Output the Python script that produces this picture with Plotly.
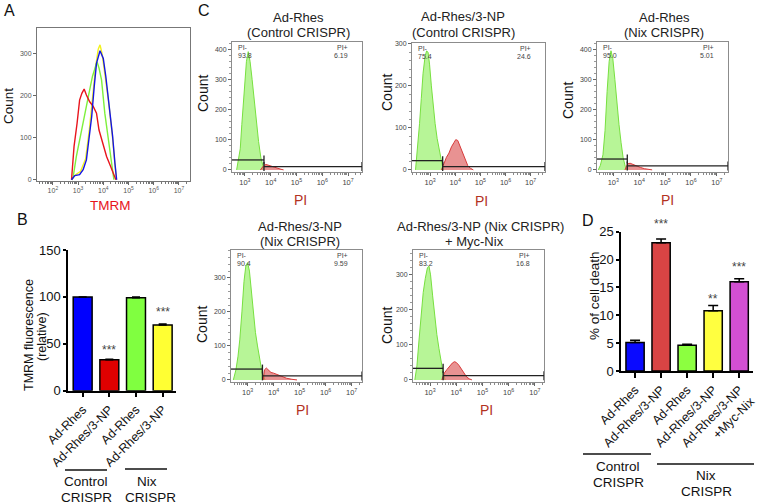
import math
import plotly.graph_objects as go

W, H = 757, 504
FONT = "Arial, Liberation Sans, sans-serif"


def fx(x):
    return x / W


def fy(y):
    return 1 - y / H


# ---------------- Panel A : TMRM histograms (log10 intensity, count) ----------------
a_red_x = [2.74, 2.84, 2.96, 3.06, 3.15, 3.24, 3.33, 3.46, 3.60, 3.73, 3.83, 3.99, 4.13, 4.26, 4.39, 4.50]
a_red_y = [0, 79, 134, 189, 205, 215, 201, 185, 174, 158, 118, 83, 55, 36, 16, 0]
a_green_x = [2.74, 2.80, 2.93, 3.13, 3.33, 3.46, 3.57, 3.66, 3.75, 3.83, 3.93, 4.06, 4.19, 4.33, 4.42]
a_green_y = [0, 5, 55, 118, 174, 213, 245, 260, 280, 265, 237, 158, 103, 40, 0]
a_yellow_x = [2.74, 2.90, 3.10, 3.30, 3.45, 3.58, 3.70, 3.80, 3.87, 3.95, 4.05, 4.20, 4.35, 4.45, 4.52]
a_yellow_y = [0, 12, 20, 50, 120, 200, 270, 310, 320, 300, 260, 190, 110, 45, 0]
a_blue_x = [2.74, 2.87, 3.06, 3.20, 3.33, 3.44, 3.54, 3.64, 3.73, 3.87, 4.00, 4.10, 4.23, 4.37, 4.46, 4.53]
a_blue_y = [0, 10, 12, 24, 47, 95, 150, 221, 276, 306, 288, 245, 182, 103, 40, 0]

# ---------------- Panel B : TMRM fluorescence ----------------
b_labels = ["Ad-Rhes", "Ad-Rhes/3-NP", "Ad-Rhes", "Ad-Rhes/3-NP"]
b_values = [100, 33, 99, 70]
b_errors = [0, 0.6, 1.0, 1.0]
b_stars = ["", "***", "", "***"]

# ---------------- Panel C : PI histograms (log10 PI, count) ----------------
c1_green_x = [2.68, 2.75, 2.82, 2.88, 2.94, 3.00, 3.06, 3.13, 3.20, 3.28, 3.36, 3.45, 3.53, 3.62, 3.74]
c1_green_y = [0, 30, 70, 150, 232, 300, 360, 392, 360, 300, 232, 160, 94, 40, 0]
c1_red_x = [3.60, 3.74, 3.82, 3.95, 4.10, 4.25, 4.40, 4.50]
c1_red_y = [0, 15, 18, 14, 9, 5, 2, 0]

c2_green_x = [2.42, 2.50, 2.58, 2.65, 2.72, 2.80, 2.86, 2.92, 2.98, 3.05, 3.12, 3.20, 3.28, 3.37, 3.45, 3.52]
c2_green_y = [0, 47, 110, 170, 230, 270, 283, 280, 250, 200, 150, 110, 75, 47, 15, 0]
c2_red_x = [3.45, 3.55, 3.65, 3.75, 3.85, 3.95, 4.02, 4.10, 4.20, 4.30, 4.40, 4.50, 4.60, 4.72]
c2_red_y = [0, 15, 30, 40, 55, 65, 72, 70, 55, 38, 22, 10, 4, 0]

c3_green_x = [2.42, 2.50, 2.60, 2.68, 2.76, 2.84, 2.91, 2.98, 3.06, 3.14, 3.22, 3.30, 3.38, 3.46, 3.54]
c3_green_y = [0, 15, 50, 130, 260, 360, 395, 370, 300, 220, 150, 90, 40, 12, 0]
c3_red_x = [3.45, 3.55, 3.65, 3.75, 3.90, 4.05, 4.20, 4.35, 4.50]
c3_red_y = [0, 20, 22, 18, 12, 8, 4, 2, 0]

c4_green_x = [2.45, 2.55, 2.63, 2.70, 2.78, 2.86, 2.93, 3.00, 3.07, 3.15, 3.23, 3.30, 3.38, 3.46, 3.55, 3.67]
c4_green_y = [0, 30, 70, 120, 200, 290, 335, 345, 320, 260, 190, 140, 100, 60, 25, 0]
c4_red_x = [3.60, 3.65, 3.72, 3.80, 3.90, 4.00, 4.10, 4.20, 4.35, 4.50, 4.70, 4.90]
c4_red_y = [0, 30, 35, 28, 22, 20, 17, 13, 9, 5, 2, 0]

c5_green_x = [2.42, 2.50, 2.58, 2.66, 2.74, 2.82, 2.90, 2.96, 3.02, 3.10, 3.18, 3.26, 3.34, 3.42, 3.50, 3.58]
c5_green_y = [0, 40, 114, 190, 250, 290, 320, 325, 300, 240, 180, 130, 90, 50, 20, 0]
c5_red_x = [3.45, 3.55, 3.65, 3.75, 3.85, 3.93, 4.00, 4.10, 4.20, 4.30, 4.40, 4.50, 4.60]
c5_red_y = [0, 20, 30, 40, 48, 52, 50, 42, 30, 18, 8, 3, 0]

c_titles = [["Ad-Rhes", "(Control CRISPR)"], ["Ad-Rhes/3-NP", "(Control CRISPR)"],
            ["Ad-Rhes", "(Nix CRISPR)"], ["Ad-Rhes/3-NP", "(Nix CRISPR)"],
            ["Ad-Rhes/3-NP (Nix CRISPR)", "+ Myc-Nix"]]
c_pi_neg = ["93.8", "75.4", "95.0", "90.4", "83.2"]
c_pi_pos = ["6.19", "24.6", "5.01", "9.59", "16.8"]
c_gate_split = [3.74, 3.50, 3.54, 3.57, 3.50]
c_gate_neg_level = [33, 22, 36, 32, 33]
c_gate_pos_level = [11, 8, 13, 12, 12]

# ---------------- Panel D : % of cell death ----------------
d_labels = ["Ad-Rhes", "Ad-Rhes/3-NP", "Ad-Rhes", "Ad-Rhes/3-NP", "Ad-Rhes/3-NP<br>+Myc-Nix"]
d_values = [5.1, 23.0, 4.6, 10.8, 16.0]
d_errors = [0.4, 0.7, 0.2, 0.95, 0.55]
d_stars = ["", "***", "", "**", "***"]

# ==================================================================================
fig = go.Figure()
annotations = []
shapes = []


def ann(text, x, y, size, color="#111", angle=0, xanchor="center", yanchor="middle",
        xref="paper", yref="paper"):
    annotations.append(dict(text=text, x=x, y=y, xref=xref, yref=yref, showarrow=False,
                            font=dict(size=size, color=color, family=FONT), textangle=angle,
                            xanchor=xanchor, yanchor=yanchor))


def minor_logs(lo, hi):
    vals = []
    for n in range(1, 8):
        for k in range(2, 10):
            v = n + math.log10(k)
            if lo < v < hi:
                vals.append(v)
    return vals


def pow_ticks(lo, hi):
    vals = [n for n in range(1, 9) if lo <= n <= hi]
    return vals, ["10<sup>%d</sup>" % n for n in vals]


layout = dict(template="none", width=W, height=H, autosize=False,
              margin=dict(l=0, r=0, t=0, b=0, pad=0, autoexpand=False),
              paper_bgcolor="white", plot_bgcolor="white", showlegend=False,
              font=dict(family=FONT, color="#111"))

# ---------------- Panel A ----------------
a_xr = [1.37, 7.44]
tv, tt = pow_ticks(*a_xr)
layout["xaxis"] = dict(domain=[fx(37), fx(190)], range=a_xr, anchor="y", showline=True, mirror=True,
                       linecolor="#777", linewidth=1, ticks="outside", ticklen=3, tickcolor="#666",
                       tickvals=tv, ticktext=tt, tickfont=dict(size=7, color="#555"),
                       showgrid=False, zeroline=False, automargin=False,
                       minor=dict(tickvals=minor_logs(*a_xr), ticks="outside", ticklen=2, tickcolor="#777"))
layout["yaxis"] = dict(domain=[fy(181), fy(28)], range=[-3, 360], anchor="x", showline=True, mirror=True,
                       linecolor="#777", linewidth=1, ticks="outside", ticklen=3, tickcolor="#666",
                       tickvals=[0, 100, 200, 300], tickfont=dict(size=7, color="#555"),
                       showgrid=False, zeroline=False, automargin=False)
for xs, ys, col in [(a_yellow_x, a_yellow_y, "#f2f21c"), (a_green_x, a_green_y, "#7ef03c"),
                    (a_red_x, a_red_y, "#e8141c"), (a_blue_x, a_blue_y, "#1414e6")]:
    fig.add_trace(go.Scatter(x=xs, y=ys, mode="lines", line=dict(color=col, width=1.4),
                             xaxis="x", yaxis="y", hoverinfo="skip"))
ann("A", fx(9), fy(10), 16)
ann("Count", fx(8), fy(106), 13.5, angle=-90)
ann("TMRM", fx(110), fy(205), 13.5, color="#e8151b")

# ---------------- Panel B ----------------
layout["xaxis2"] = dict(domain=[fx(68), fx(176)], range=[-0.55, 3.5], anchor="y2", showline=True,
                        linecolor="black", linewidth=1.5, ticks="outside", ticklen=5, tickwidth=1.5,
                        tickcolor="black", tickvals=list(range(len(b_labels))), ticktext=b_labels,
                        tickangle=-45, tickfont=dict(size=12.5, color="#111"), showgrid=False,
                        zeroline=False, automargin=False, ticklabeloverflow="allow")
layout["yaxis2"] = dict(domain=[fy(390.7), fy(250)], range=[0, 150], anchor="x2", showline=True,
                        linecolor="black", linewidth=1.5, ticks="outside", ticklen=3, tickwidth=1.5,
                        tickcolor="black", tickvals=[0, 50, 100, 150], tickfont=dict(size=13, color="#111"),
                        showgrid=False, zeroline=False, automargin=False)
fig.add_trace(go.Bar(x=list(range(len(b_values))), y=b_values, width=0.71,
                     marker=dict(color=["#0000ff", "#e00000", "#80ff40", "#ffff33"],
                                 line=dict(color="black", width=1.5)),
                     error_y=dict(type="data", array=b_errors, arrayminus=[0] * len(b_errors),
                                  symmetric=False, color="black", thickness=1.5, width=4),
                     xaxis="x2", yaxis="y2", hoverinfo="skip"))
b_star_y = [0, 350, 0, 312]
for i, s in enumerate(b_stars):
    if s:
        ann(s, i, fy(b_star_y[i]), 12, color="#444", xref="x2")
ann("B", fx(22), fy(219), 16)
ann("TMRM fluorescence", fx(29), fy(335), 12.5, angle=-90)
ann("(relative)", fx(42), fy(337), 12.5, angle=-90)
shapes.append(dict(type="line", xref="paper", yref="paper", x0=fx(65), x1=fx(107), y0=fy(470), y1=fy(470),
                   line=dict(color="#111", width=1.5)))
shapes.append(dict(type="line", xref="paper", yref="paper", x0=fx(125), x1=fx(167), y0=fy(469), y1=fy(469),
                   line=dict(color="#111", width=1.5)))
ann("Control", fx(86), fy(481), 13.5)
ann("CRISPR", fx(86), fy(497), 13.5)
ann("Nix", fx(147), fy(481), 13.5)
ann("CRISPR", fx(150), fy(497), 13.5)

# ---------------- Panel C ----------------
c_green_x = [c1_green_x, c2_green_x, c3_green_x, c4_green_x, c5_green_x]
c_green_y = [c1_green_y, c2_green_y, c3_green_y, c4_green_y, c5_green_y]
c_red_x = [c1_red_x, c2_red_x, c3_red_x, c4_red_x, c5_red_x]
c_red_y = [c1_red_y, c2_red_y, c3_red_y, c4_red_y, c5_red_y]

c_boxes = [(232, 362, 42, 172), (412, 545, 43, 172), (597, 728, 42, 172),
           (231, 362, 250, 382), (413, 544, 250, 382)]
c_xr = [[2.50, 7.54], [2.28, 7.57], [2.37, 7.43], [2.36, 7.40], [2.35, 7.35]]
c_yr = [[-7, 424], [-5, 302], [-7, 424], [-6, 382], [-6, 371]]
c_yt = [[0, 100, 200, 300, 400], [0, 100, 200, 300], [0, 100, 200, 300, 400],
        [0, 100, 200, 300], [0, 100, 200, 300]]
c_title_pos = [(298, 18, 32), (463, 17, 32), (664, 18, 32), (300, 227, 241), (480, 227, 241)]
c_count_pos = [(203, 94), (387, 93), (568, 101), (202, 325), (387, 326)]
c_pi_pos_xy = [(300, 200), (482, 201), (667, 200), (302, 410), (486, 410)]

for i in range(5):
    n = i + 3
    xa, ya = "x%d" % n, "y%d" % n
    x0, x1, y0, y1 = c_boxes[i]
    xr, yr = c_xr[i], c_yr[i]
    tv, tt = pow_ticks(3, 7)
    layout["xaxis%d" % n] = dict(domain=[fx(x0), fx(x1)], range=xr, anchor=ya, showline=True, mirror=True,
                                 linecolor="#8c8c8c", linewidth=1, ticks="outside", ticklen=3,
                                 tickcolor="#666", tickvals=tv, ticktext=tt,
                                 tickfont=dict(size=7.5, color="#444"), showgrid=False, zeroline=False,
                                 automargin=False,
                                 minor=dict(tickvals=minor_logs(*xr), ticks="outside", ticklen=2,
                                            tickcolor="#888"))
    layout["yaxis%d" % n] = dict(domain=[fy(y1), fy(y0)], range=yr, anchor=xa, showline=True, mirror=True,
                                 linecolor="#8c8c8c", linewidth=1, ticks="outside", ticklen=3,
                                 tickcolor="#666", tickvals=c_yt[i], tickfont=dict(size=7, color="#444"),
                                 showgrid=False, zeroline=False, automargin=False,
                                 minor=dict(dtick=20, ticks="outside", ticklen=2, tickcolor="#999"))
    fig.add_trace(go.Scatter(x=c_green_x[i], y=c_green_y[i], mode="lines", fill="tozeroy",
                             fillcolor="rgba(165,242,125,0.8)", line=dict(color="#78e040", width=1),
                             xaxis=xa, yaxis=ya, hoverinfo="skip"))
    fig.add_trace(go.Scatter(x=c_red_x[i], y=c_red_y[i], mode="lines", fill="tozeroy",
                             fillcolor="rgba(222,100,100,0.7)", line=dict(color="#d83a3a", width=1),
                             xaxis=xa, yaxis=ya, hoverinfo="skip"))
    # gates
    cpp = (yr[1] - yr[0]) / (y1 - y0)  # counts per pixel
    cap = 4.5 * cpp
    sp = c_gate_split[i]
    gl = c_gate_neg_level[i]
    gp = c_gate_pos_level[i]
    gline = dict(color="#222", width=1.3)
    shapes.append(dict(type="line", xref=xa, yref=ya, x0=xr[0], x1=sp, y0=gl, y1=gl, line=gline))
    shapes.append(dict(type="line", xref=xa, yref=ya, x0=sp, x1=sp, y0=gl - cap, y1=gl + cap, line=gline))
    shapes.append(dict(type="line", xref=xa, yref=ya, x0=sp, x1=xr[1], y0=gp, y1=gp, line=gline))
    shapes.append(dict(type="line", xref=xa, yref=ya, x0=sp, x1=sp, y0=gp - cap, y1=gp + cap, line=gline))
    shapes.append(dict(type="line", xref=xa, yref=ya, x0=xr[1], x1=xr[1], y0=gp - cap, y1=gp + cap,
                       line=gline))
    ann("PI-", 0.03, 0.955, 7, color="#444", xanchor="left", xref=xa + " domain", yref=ya + " domain")
    ann(c_pi_neg[i], 0.03, 0.895, 7, color="#444", xanchor="left", xref=xa + " domain", yref=ya + " domain")
    ann("PI+", 0.91, 0.955, 7, color="#444", xanchor="right", xref=xa + " domain", yref=ya + " domain")
    ann(c_pi_pos[i], 0.91, 0.895, 7, color="#444", xanchor="right", xref=xa + " domain", yref=ya + " domain")
    tx, ty1, ty2 = c_title_pos[i]
    ann(c_titles[i][0], fx(tx), fy(ty1), 13, color="#222")
    ann(c_titles[i][1], fx(tx if i < 4 else 475), fy(ty2), 13, color="#222")
    cx, cy = c_count_pos[i]
    ann("Count", fx(cx), fy(cy), 14, angle=-90)
    px_, py_ = c_pi_pos_xy[i]
    ann("PI", fx(px_), fy(py_), 14, color="#b3321f")
ann("C", fx(204), fy(10), 16)

# ---------------- Panel D ----------------
layout["xaxis8"] = dict(domain=[fx(621), fx(753)], range=[-0.54, 4.53], anchor="y8", showline=True,
                        linecolor="black", linewidth=1.5, ticks="outside", ticklen=5, tickwidth=1.5,
                        tickcolor="black", tickvals=list(range(len(d_labels))), ticktext=d_labels,
                        tickangle=-45, tickfont=dict(size=12.5, color="#111"), showgrid=False,
                        zeroline=False, automargin=False, ticklabeloverflow="allow")
layout["yaxis8"] = dict(domain=[fy(371), fy(231.7)], range=[0, 25], anchor="x8", showline=True,
                        linecolor="black", linewidth=1.5, ticks="outside", ticklen=3, tickwidth=1.5,
                        tickcolor="black", tickvals=[0, 5, 10, 15, 20, 25], tickfont=dict(size=13, color="#111"),
                        showgrid=False, zeroline=False, automargin=False)
fig.add_trace(go.Bar(x=list(range(len(d_values))), y=d_values, width=0.7,
                     marker=dict(color=["#0a0aff", "#d94444", "#8cff40", "#ffff40", "#d24fd2"],
                                 line=dict(color="black", width=1.5)),
                     error_y=dict(type="data", array=d_errors, arrayminus=[0] * len(d_errors),
                                  symmetric=False, color="black", thickness=1.5, width=5),
                     xaxis="x8", yaxis="y8", hoverinfo="skip"))
d_star_y = [0, 224.3, 0, 299, 267.3]
for i, s in enumerate(d_stars):
    if s:
        ann(s, i, fy(d_star_y[i]), 12, color="#444", xref="x8")
ann("D", fx(588), fy(220), 16)
ann("% of cell death", fx(594), fy(296), 13.5, angle=-90)
shapes.append(dict(type="line", xref="paper", yref="paper", x0=fx(583), x1=fx(651), y0=fy(454), y1=fy(454),
                   line=dict(color="#111", width=1.5)))
shapes.append(dict(type="line", xref="paper", yref="paper", x0=fx(657), x1=fx(754), y0=fy(464), y1=fy(464),
                   line=dict(color="#111", width=1.5)))
ann("Control", fx(618), fy(466), 13.5)
ann("CRISPR", fx(618), fy(482), 13.5)
ann("Nix", fx(706), fy(475), 13.5)
ann("CRISPR", fx(706), fy(491), 13.5)

layout["annotations"] = annotations
layout["shapes"] = shapes
fig.update_layout(**layout)
fig.write_html("out.html", post_script="document.body.style.margin='0';",
               config={"displayModeBar": False})
